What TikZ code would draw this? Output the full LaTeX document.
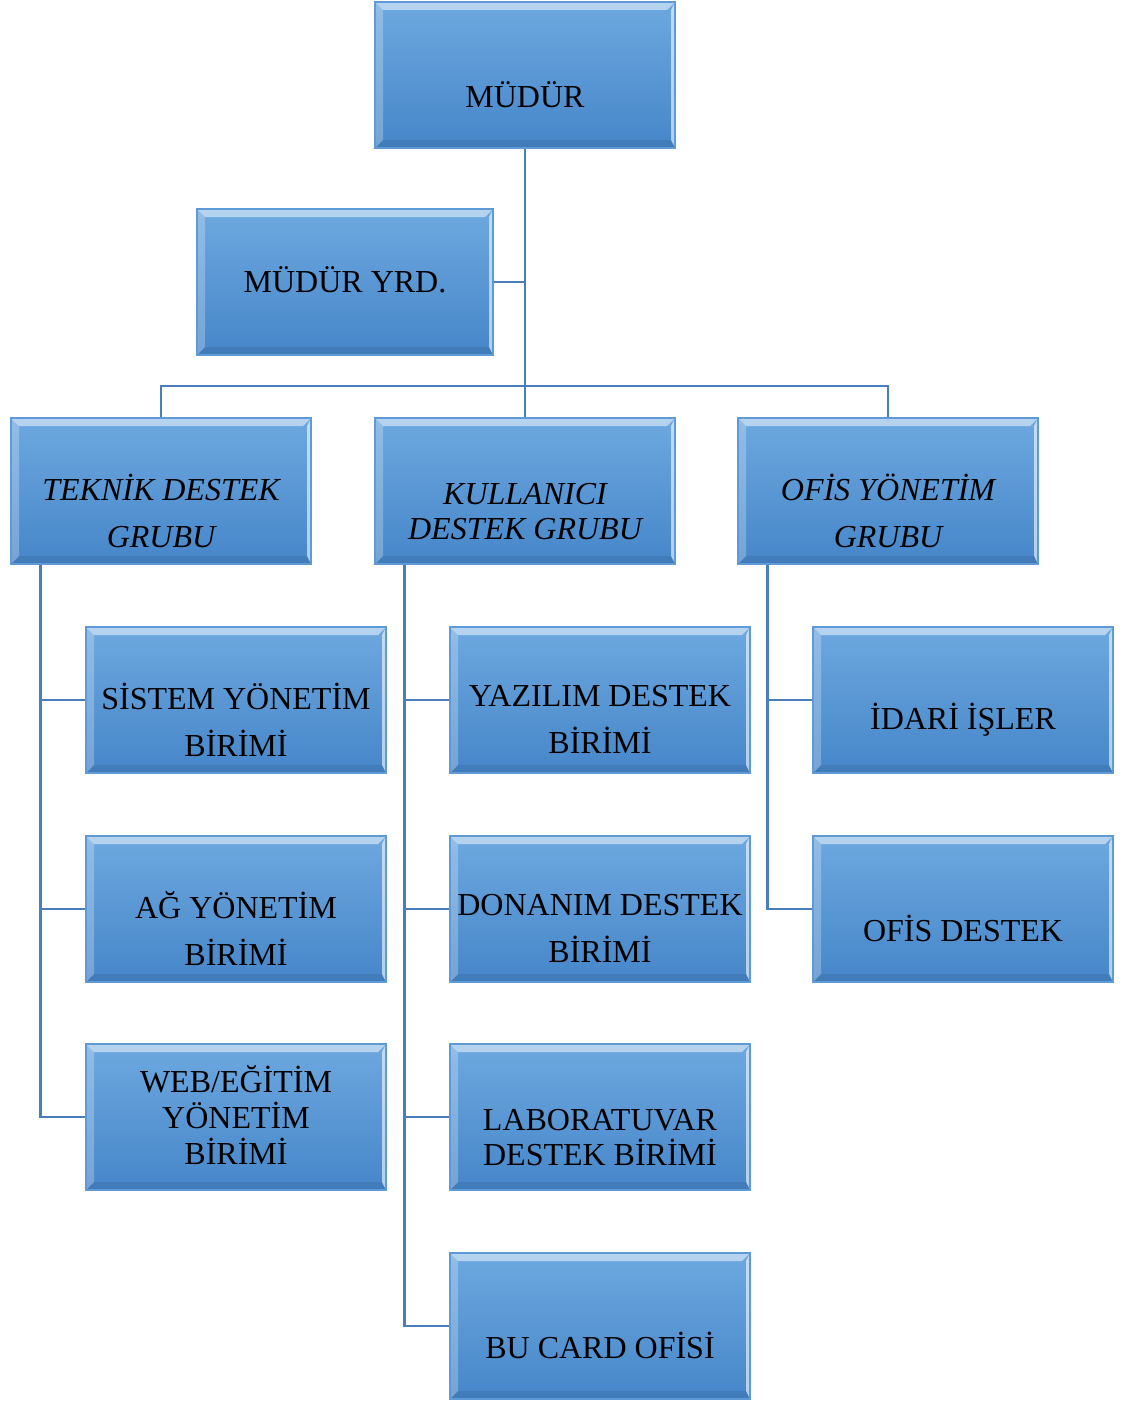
\documentclass[tikz,border=0pt]{standalone}
\usepackage{fontspec}
\setmainfont{Liberation Serif}
\usepackage{tikz}
\usepackage{xcolor}
\definecolor{boxtop}{HTML}{6DA8DF}
\definecolor{boxbot}{HTML}{4686C9}
\definecolor{boxedge}{HTML}{5D9AD6}
\definecolor{linkcol}{HTML}{4A7EBB}
\tikzstyle{unit} = [rectangle, minimum width=150pt, minimum height=73pt, inner sep=0pt,
  top color=boxtop, bottom color=boxbot, draw=boxedge, line width=0.6pt,
  path picture={
    \fill[white, opacity=0.5] (path picture bounding box.north west) -- (path picture bounding box.north east)
      -- ([shift={(-4pt,-4pt)}]path picture bounding box.north east) -- ([shift={(4pt,-4pt)}]path picture bounding box.north west) -- cycle;
    \fill[white, opacity=0.25] (path picture bounding box.north west) -- ([shift={(4pt,-4pt)}]path picture bounding box.north west)
      -- ([shift={(4pt,4pt)}]path picture bounding box.south west) -- (path picture bounding box.south west) -- cycle;
    \fill[white, opacity=0.6] (path picture bounding box.north east) -- ([shift={(-2pt,-4pt)}]path picture bounding box.north east)
      -- ([shift={(-2pt,4pt)}]path picture bounding box.south east) -- (path picture bounding box.south east) -- cycle;
    \fill[black, opacity=0.08] (path picture bounding box.south west) -- ([shift={(4pt,4pt)}]path picture bounding box.south west)
      -- ([shift={(-2pt,4pt)}]path picture bounding box.south east) -- (path picture bounding box.south east) -- cycle;
  }]
% captions sit a little below the middle of the boxes
\tikzstyle{caption} = [align=center, inner sep=0pt, font=\fontsize{16}{23.5}\selectfont, yshift=-9.8pt]
\tikzstyle{captionit} = [caption, font=\fontsize{16}{23.5}\selectfont\itshape]
\tikzstyle{captiontight} = [align=center, inner sep=0pt, font=\fontsize{16}{17.5}\selectfont, yshift=-10.5pt]
\tikzstyle{captiontightit} = [captiontight, font=\fontsize{16}{17.5}\selectfont\itshape]
\tikzstyle{captionmid} = [align=center, inner sep=0pt, font=\fontsize{16}{18}\selectfont]
\tikzstyle{link} = [draw=linkcol, line width=1.2pt]

\begin{document}
\begin{tikzpicture}[x=0.5pt,y=-0.5pt]
  \useasboundingbox (0,0) rectangle (1134,1402);

  \node[unit, label={[caption]center:MÜDÜR}] (mudur) at (525,75) {};
  \node[unit, minimum width=148pt, label={[captionmid, yshift=1.2pt]center:MÜDÜR YRD.}] (yrd) at (345,282) {};
  \node[unit, label={[captionit]center:{TEKNİK DESTEK\\GRUBU}}] (teknik) at (161,491) {};
  \node[unit, label={[captiontightit]center:{KULLANICI\\DESTEK GRUBU}}] (kullanici) at (525,491) {};
  \node[unit, label={[captionit]center:{OFİS YÖNETİM\\GRUBU}}] (ofis) at (888,491) {};

  \node[unit, label={[caption]center:{SİSTEM YÖNETİM\\BİRİMİ}}] (sistem) at (236,700) {};
  \node[unit, label={[caption]center:{AĞ YÖNETİM\\BİRİMİ}}] (ag) at (236,909) {};
  \node[unit, label={[captionmid, yshift=0.8pt]center:{WEB/EĞİTİM\\YÖNETİM\\BİRİMİ}}] (web) at (236,1117) {};

  \node[unit, label={[caption]center:{YAZILIM DESTEK\\BİRİMİ}}] (yazilim) at (600,700) {};
  \node[unit, label={[caption]center:{DONANIM DESTEK\\BİRİMİ}}] (donanim) at (600,909) {};
  \node[unit, label={[captiontight]center:{LABORATUVAR\\DESTEK BİRİMİ}}] (lab) at (600,1117) {};
  \node[unit, label={[caption]center:BU CARD OFİSİ}] (bucard) at (600,1326) {};

  \node[unit, label={[caption]center:İDARİ İŞLER}] (idari) at (963,700) {};
  \node[unit, label={[caption]center:OFİS DESTEK}] (ofisdestek) at (963,909) {};

  % top of the chart
  \coordinate (bus) at (525,386);
  \path[link] (mudur) -- (kullanici);
  \path[link] (yrd.east) -- (yrd.east -| mudur.south);
  \path[link] (teknik.north) |- (bus) -| (ofis.north);

  % branches below each group
  \foreach \n in {sistem,ag,web}
    \path[link] ([xshift=15pt]teknik.south west) |- (\n.west);
  \foreach \n in {yazilim,donanim,lab,bucard}
    \path[link] ([xshift=15pt]kullanici.south west) |- (\n.west);
  \foreach \n in {idari,ofisdestek}
    \path[link] ([xshift=15pt]ofis.south west) |- (\n.west);
\end{tikzpicture}
\end{document}
